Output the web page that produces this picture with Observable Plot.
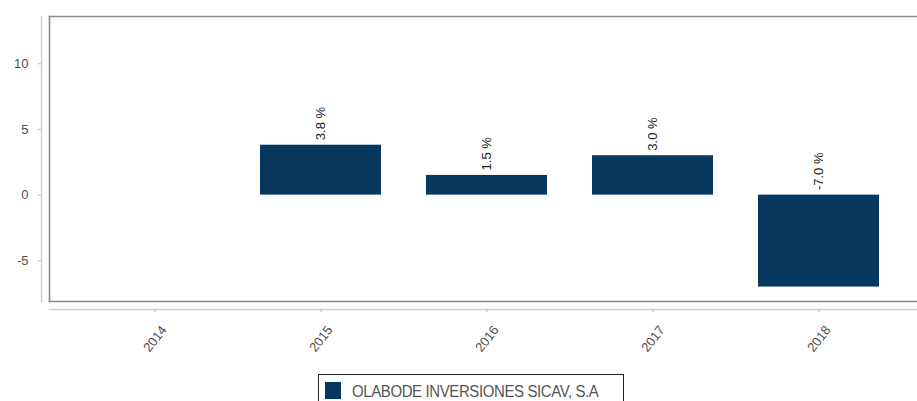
<!DOCTYPE html>
<html>
<head>
<meta charset="utf-8">
<script src="https://cdn.jsdelivr.net/npm/d3@7"></script>
<script src="https://cdn.jsdelivr.net/npm/@observablehq/plot@0.6"></script>
<style>
  html, body { margin: 0; padding: 0; background: #fff; overflow: hidden; }
  #wrap { position: relative; width: 917px; height: 401px; }
  #legend {
    position: absolute; left: 318px; top: 374px; width: 306px; height: 34px;
    border: 1.5px solid #222; box-sizing: border-box;
    font-family: "Liberation Sans", Arial, sans-serif; font-size: 15px; color: #555;
  }
  #legend .sw { position: absolute; left: 6px; top: 7px; width: 16px; height: 17px; background: #05375f; }
  #legend .lb { position: absolute; left: 33px; top: 6px; white-space: nowrap; letter-spacing: -0.4px; transform: scaleY(1.15); transform-origin: left top; }
</style>
</head>
<body>
<div id="wrap"><div id="chart"></div><div id="legend"><div class="sw"></div><div class="lb"></div></div></div>
<script>
const years = ["2014", "2015", "2016", "2017", "2018"];
const returns = [null, 3.8, 1.5, 3.0, -7.0];
const barLabels = [null, "3.8 %", "1.5 %", "3.0 %", "-7.0 %"];
const yTicks = [-5, 0, 5, 10];
const seriesName = "OLABODE INVERSIONES SICAV, S.A";
const barColor = "#05375f";

const data = years.map((year, i) => ({year, value: returns[i], label: barLabels[i]}))
  .filter(d => d.value != null);

const chart = Plot.plot({
  width: 917,
  height: 372,
  marginLeft: 49,
  marginRight: 0,
  marginTop: 16,
  marginBottom: 71,
  style: {fontFamily: "'Liberation Sans', Arial, sans-serif", fontSize: "13px", background: "white", color: "#4d4d4d"},
  x: {domain: years, range: [70, 903], paddingInner: 0.27, paddingOuter: 0.135, label: null},
  y: {domain: [-8.1, 13.6], label: null},
  marks: [
    Plot.frame({anchor: "top", stroke: "#8a8a8a", strokeWidth: 1.6, strokeOpacity: 1}),
    Plot.frame({anchor: "left", stroke: "#8a8a8a", strokeWidth: 1.6, strokeOpacity: 1}),
    Plot.frame({anchor: "bottom", stroke: "#8a8a8a", strokeWidth: 1.6, strokeOpacity: 1}),
    Plot.frame({anchor: "left", dx: -8, stroke: "#cfcfcf", strokeWidth: 1.5, strokeOpacity: 1}),
    Plot.frame({anchor: "bottom", dy: 8, stroke: "#cfcfcf", strokeWidth: 1.5, strokeOpacity: 1}),
    Plot.barY(data, {x: "year", y: "value", fill: barColor}),
    Plot.text(data, {
      x: "year", y: d => Math.max(d.value, 0), text: "label",
      rotate: -90, textAnchor: "start", dy: -5, fontSize: 13, fill: "#222"
    }),
    Plot.axisY({ticks: yTicks, tickFormat: d => String(d), tickSize: 3, dx: -8, tickPadding: 10, stroke: "#bbb", fill: "#4d4d4d", fontSize: 13, label: null}),
    Plot.axisX({tickSize: 3, dy: 8, tickFormat: () => "", stroke: "#bbb", label: null}),
    Plot.axisX({tickSize: 0, tickRotate: -52, dx: 9, dy: 26, tickPadding: 0, fill: "#4d4d4d", fontSize: 13, label: null})
  ]
});
document.getElementById("chart").appendChild(chart);
document.querySelector("#legend .lb").textContent = seriesName;
</script>
</body>
</html>
